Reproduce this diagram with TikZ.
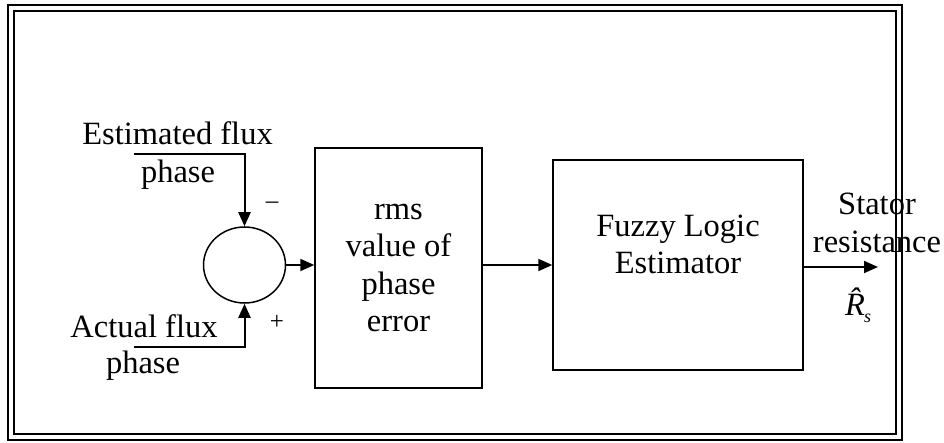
\documentclass[tikz,border=0pt]{standalone}
\usepackage{fontspec}
\setmainfont{Liberation Serif}
\usetikzlibrary{arrows.meta,shapes.geometric}
\begin{document}
\begin{tikzpicture}[x=1pt,y=-1pt,
  txt/.style={font=\fontsize{32.5}{37.5}\selectfont, inner sep=0pt, align=center},
  sgn/.style={font=\fontsize{25}{28}\selectfont, inner sep=0pt},
  blk/.style={draw, line width=1.5pt, inner sep=0pt},
  frm/.style={draw, line width=2.4pt},
  sig/.style={line width=2pt, -{Triangle[length=14pt,width=12pt]}}]
\useasboundingbox (0,0) rectangle (944,443);
% double frame
\draw[frm] (8,5) rectangle (902,440);
\draw[frm] (14,11) rectangle (896,434);
% summing junction
\node[draw, line width=1.5pt, ellipse, minimum width=82pt, minimum height=76pt, inner sep=0pt] (sum) at (244.5,265) {};
% input labels
\node[txt, anchor=base] (est1) at (177.5,145) {Estimated flux};
\node[txt, anchor=base] (est2) at (178,183) {phase};
\node[txt, anchor=base] (act1) at (144,337) {Actual flux};
\node[txt, anchor=base] (act2) at (143,373) {phase};
\node[sgn] (minus) at (272,205) {\textendash};
\node[sgn] (plus) at (277,322) {+};
\coordinate (e0) at (134,154);
\coordinate (a0) at (134,347);
\draw[sig] (e0) -| (sum.north);
\draw[sig] (a0) -| (sum.south);
% rms block
\node[blk, txt, minimum width=167pt, minimum height=240pt] (rms) at (398.5,268) {rms\\value of\\phase\\error};
\draw[sig] (sum.east) -- (rms.west |- sum.east);
% fuzzy block
\node[blk, minimum width=250pt, minimum height=210pt] (fle) at (678,265) {};
\node[txt, anchor=base] (fl1) at (678,237) {Fuzzy Logic};
\node[txt, anchor=base] (fl2) at (678,274) {Estimator};
\draw[sig] (rms.east |- fle.west) -- (fle.west);
% output
\coordinate (out) at (878,267);
\draw[sig] (fle.east |- out) -- (out);
\node[txt, anchor=base] (st1) at (877,215) {Stator};
\node[txt, anchor=base] (st2) at (877,253) {resistance};
\node[txt, anchor=base west] (rs) at (845,316) {\itshape\^{R}\kern-1pt\raisebox{-7pt}{\fontsize{18}{20}\selectfont s}};
\end{tikzpicture}
\end{document}
